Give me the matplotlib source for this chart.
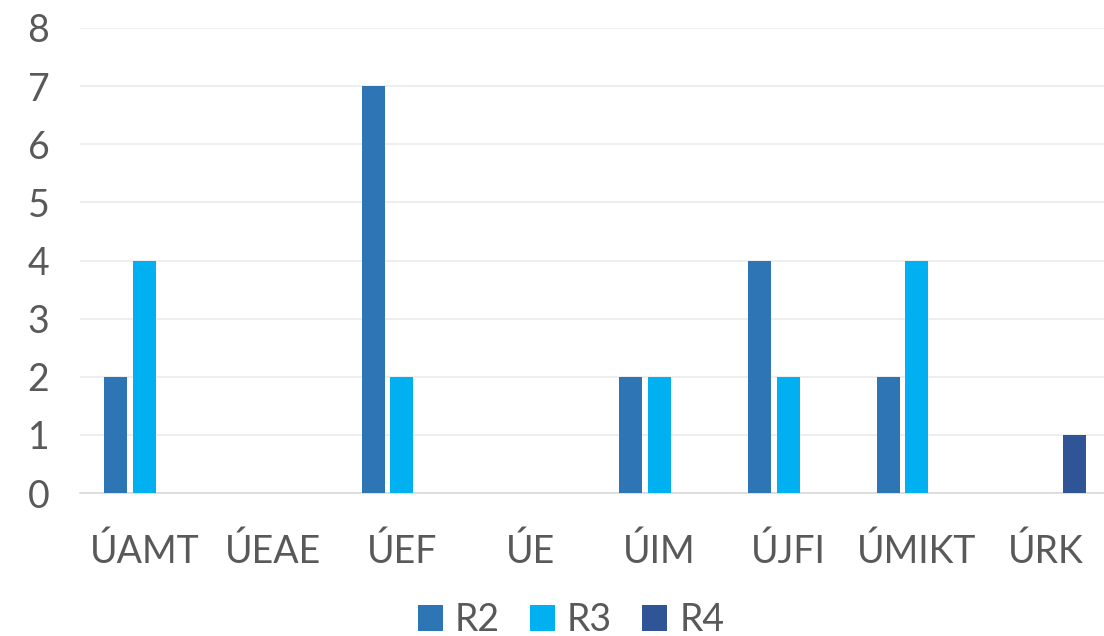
import matplotlib
matplotlib.use("Agg")
import matplotlib.pyplot as plt
import numpy as np

categories = ["ÚAMT", "ÚEAE", "ÚEF", "ÚE", "ÚIM", "ÚJFI", "ÚMIKT", "ÚRK"]
r2 = [2, 0, 7, 0, 2, 4, 2, 0]
r3 = [4, 0, 2, 0, 2, 2, 4, 0]
r4 = [0, 0, 0, 0, 0, 0, 0, 1]
series_names = ["R2", "R3", "R4"]
colors = ["#2E75B6", "#00B0F0", "#2F5597"]
yticks = [0, 1, 2, 3, 4, 5, 6, 7, 8]

plt.rcParams['font.family'] = ['Lato', 'DejaVu Sans']
fig = plt.figure(figsize=(11.04, 6.36), dpi=100)
ax = fig.add_axes([80/1104, 143/636, 1030/1104, (493-28)/636])

x = np.arange(len(categories))
w = 0.178
step = 0.222
for i, (vals, name, c) in enumerate(zip([r2, r3, r4], series_names, colors)):
    ax.bar(x + (i - 1) * step, vals, width=w, color=c, label=name, zorder=3)

ax.set_xlim(-0.5, len(categories) - 0.5)
ax.set_ylim(0, 8)
ax.set_yticks(yticks)
ax.set_xticks(x)
ax.set_xticklabels(categories)
ax.grid(axis='y', color='#EBEBEB', linewidth=1.2, zorder=0)
for s in ['top', 'right', 'left']:
    ax.spines[s].set_visible(False)
ax.spines['bottom'].set_color('#D9D9D9')
ax.spines['bottom'].set_linewidth(1.2)
ax.spines['bottom'].set_bounds(-0.5, 7.5)
ax.tick_params(axis='both', length=0, labelsize=27, colors='#595959')
ax.tick_params(axis='x', pad=29)
ax.tick_params(axis='y', pad=22)

handles, labels = ax.get_legend_handles_labels()
fig.legend(handles, labels, loc='center', bbox_to_anchor=(571/1104, 1 - 620/636), ncol=3,
           frameon=False, fontsize=27, handlelength=0.67, handleheight=0.67,
           handletextpad=0.32, columnspacing=0.8, labelcolor='#595959')
fig.savefig("out.png", dpi=100, facecolor='white')
